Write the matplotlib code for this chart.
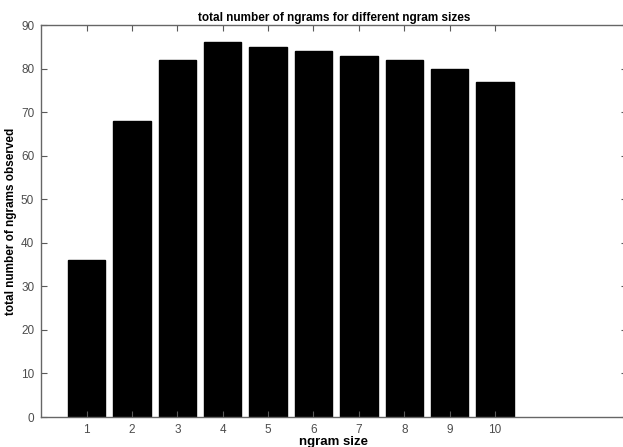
import matplotlib
matplotlib.use("Agg")
import matplotlib.pyplot as plt
import numpy as np

# ngram sizes and counts
ngram_sizes = [1, 2, 3, 4, 5, 6, 7, 8, 9, 10]
ngram_counts = [36, 68, 82, 86, 85, 84, 83, 82, 80, 77]
y_ticks = [0, 10, 20, 30, 40, 50, 60, 70, 80, 90]

plt.rcParams['font.family'] = ['Liberation Sans', 'DejaVu Sans']

fig = plt.figure(figsize=(6.23, 4.47), dpi=100)
ax = fig.add_axes([0.066, 0.067, 0.94, 0.877])

ax.bar(ngram_sizes, ngram_counts, width=0.82, color='black', edgecolor='black')

ax.set_xlim(0, 12.9)
ax.set_ylim(0, 90)
ax.set_xticks(ngram_sizes)
ax.set_yticks(y_ticks)

ax.tick_params(direction='in', top=True, right=True, length=4, width=0.8,
               labelsize=8.5, colors='0.35', labelcolor='0.3', pad=5)
for sp in ax.spines.values():
    sp.set_color('0.4')
    sp.set_linewidth(1.0)

ax.set_title("total number of ngrams for different ngram sizes",
             fontsize=8.5, fontweight='bold', pad=3)
ax.set_xlabel("ngram size", fontsize=9.5, fontweight='bold', labelpad=0)
ax.set_ylabel("total number of ngrams observed", fontsize=8.5, fontweight='bold',
              labelpad=3)

fig.savefig("out.png", dpi=100)
